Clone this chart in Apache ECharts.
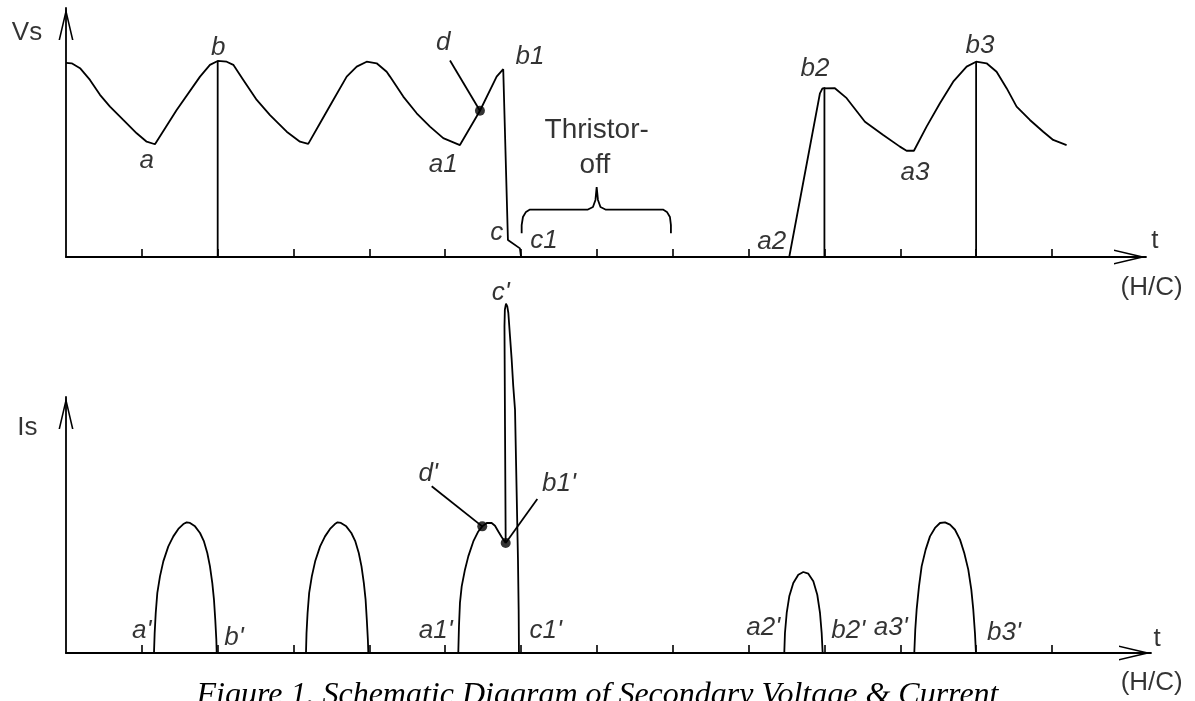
<!DOCTYPE html>
<html><head><meta charset="utf-8">
<script src="https://cdn.jsdelivr.net/npm/echarts@6/dist/echarts.min.js"></script>
<style>html,body{margin:0;padding:0;background:#fff}#c{width:1195px;height:701px}</style>
</head><body><div id="c"></div>
<script>
// ---------- top panel: secondary voltage Vs (x in H/C cycles, y relative) ----------
const xTickValues = [1,2,3,4,5,6,7,8,9,10,11,12,13];
const vsCurve = [
 [0,0.99],[0.075,0.988],[0.185,0.963],[0.316,0.903],[0.448,0.827],[0.580,0.767],[0.755,0.699],[0.932,0.631],[1.064,0.588],[1.173,0.575],
 [1.459,0.750],[1.767,0.920],[1.898,0.980],[2.0,1.0],[2.119,0.996],[2.206,0.980],[2.338,0.903],[2.515,0.801],[2.690,0.724],[2.910,0.639],[3.085,0.588],[3.194,0.577],
 [3.349,0.682],[3.524,0.801],[3.701,0.920],[3.833,0.971],[3.964,0.996],[4.096,0.988],[4.228,0.945],[4.272,0.920],[4.447,0.818],
 [4.624,0.733],[4.799,0.665],[4.974,0.606],[5.194,0.571],
 [5.458,0.746],[5.678,0.920],[5.765,0.958],[5.788,0.959],[5.827,0.087],[5.985,0.044],[6.0,0],[9.536,0],
 [9.941,0.835],[9.974,0.860],[10.0,0.866],[10.138,0.861],[10.293,0.810],[10.534,0.690],[10.775,0.622],[10.995,0.563],[11.083,0.542],[11.180,0.542],
 [11.347,0.665],[11.523,0.784],[11.698,0.894],[11.875,0.971],[12.0,0.996],[12.138,0.988],[12.270,0.945],[12.402,0.861],[12.534,0.767],[12.709,0.699],[12.885,0.639],[13.016,0.597],[13.193,0.571]
];
const vsDrops = [[2.0,1.0],[10.0,0.866],[12.0,0.996]];
const braceOff = [
 [6.008,0.121],[6.008,0.163],[6.025,0.204],[6.065,0.230],[6.117,0.242],[6.882,0.242],[6.948,0.255],[6.981,0.291],[6.997,0.357],
 [7.014,0.291],[7.047,0.255],[7.113,0.242],[7.871,0.242],[7.923,0.230],[7.963,0.204],[7.976,0.163],[7.976,0.121]
];
const dLeader = [[5.063,1.002],[5.458,0.746]];
const vsDots = [[5.458,0.746]];
const vsItalicText = [['a',1.064,0.444],['b',2.008,1.020],['a1',4.974,0.423],['d',4.974,1.047],['b1',6.117,0.974],['c',5.678,0.078],['c1',6.302,0.036],['a2',9.304,0.032],['b2',9.875,0.912],['a3',11.193,0.384],['b3',12.050,1.031]];
const vsPlainText = [['Vs',-0.514,1.098],['t',14.357,0.036],['(H/C)',14.314,-0.204]];
const vsNoteText = [['Thristor-',6.997,0.597],['off',6.974,0.418]];

// ---------- bottom panel: secondary current Is ----------
const isHump1 = [[1.160,0],[1.169,0.154],[1.183,0.308],[1.204,0.462],[1.239,0.589],[1.283,0.705],[1.349,0.820],[1.415,0.897],[1.481,0.954],[1.547,0.992],[1.591,1.005],[1.635,1.000],[1.701,0.974],[1.767,0.923],[1.819,0.858],[1.863,0.769],[1.898,0.666],[1.929,0.538],[1.951,0.410],[1.968,0.256],[1.982,0.102],[1.987,0]];
const isHump2 = [[3.164,0],[3.171,0.154],[3.185,0.308],[3.206,0.462],[3.241,0.589],[3.285,0.705],[3.350,0.820],[3.415,0.897],[3.481,0.954],[3.545,0.992],[3.580,1.005],[3.625,1.000],[3.695,0.974],[3.762,0.923],[3.815,0.858],[3.860,0.769],[3.896,0.666],[3.927,0.538],[3.950,0.410],[3.966,0.256],[3.980,0.102],[3.986,0]];
const isSpike = [[5.172,0],[5.181,0.205],[5.194,0.385],[5.217,0.513],[5.260,0.641],[5.304,0.743],[5.370,0.858],[5.436,0.935],[5.488,0.974],[5.547,1.000],[5.612,1.000],[5.656,0.979],[5.700,0.935],[5.744,0.892],[5.797,0.846],
 [5.788,1.743],[5.781,2.512],[5.786,2.641],[5.801,2.687],[5.818,2.666],[5.832,2.615],[5.854,2.435],[5.876,2.256],[5.897,2.051],[5.920,1.872],[5.933,1.487],[5.946,1.102],[5.959,0.718],[5.968,0.333],[5.972,0]];
const isHump3 = [[9.470,0],[9.479,0.154],[9.502,0.308],[9.536,0.436],[9.589,0.538],[9.655,0.602],[9.721,0.623],[9.787,0.610],[9.853,0.551],[9.905,0.448],[9.941,0.308],[9.963,0.154],[9.976,0]];
const isHump4 = [[11.184,0],[11.197,0.179],[11.215,0.333],[11.246,0.512],[11.281,0.666],[11.334,0.795],[11.391,0.897],[11.457,0.962],[11.523,1.000],[11.589,1.005],[11.655,0.987],[11.721,0.948],[11.787,0.872],[11.843,0.769],[11.896,0.641],[11.936,0.487],[11.962,0.333],[11.984,0.154],[11.997,0]];
const dPrimeLeader = [[4.821,1.282],[5.488,0.974]];
const b1PrimeLeader = [[6.214,1.185],[5.797,0.846]];
const isDots = [[5.488,0.974],[5.797,0.846]];
const isItalicText = [["a'",0.998,0.102],["b'",2.215,0.051],["a1'",4.874,0.102],["c1'",6.324,0.102],["d'",4.777,1.308],["b1'",6.500,1.231],["c'",5.732,2.705],["a2'",9.193,0.128],["b2'",10.314,0.102],["a3'",10.873,0.128],["b3'",12.367,0.089]];
const isPlainText = [['Is',-0.508,1.666],['t',14.384,0.038],['(H/C)',14.314,-0.295]];
const caption = 'Figure 1. Schematic Diagram of Secondary Voltage & Current';

// ---------- styling / building ----------
const ARROW = 'path://M7.5,0L15,32L13.4,32L7.5,6.8L1.6,32L0,32Z';
const FONT = 'Liberation Sans';
function axisLine(){return {show:true,lineStyle:{color:'#000',width:1.8},symbol:['none',ARROW],symbolSize:[15,32],symbolOffset:[0,-16]};}
function xAx(gi,max){return {type:'value',gridIndex:gi,min:0,max:max,interval:1,axisLine:axisLine(),
  axisTick:{show:true,inside:true,length:8,customValues:xTickValues,lineStyle:{color:'#000',width:1.6}},
  axisLabel:{show:false},splitLine:{show:false}};}
function yAx(gi,max){return {type:'value',gridIndex:gi,min:0,max:max,axisLine:axisLine(),axisTick:{show:false},axisLabel:{show:false},splitLine:{show:false}};}
function line(data,gi){return {type:'line',xAxisIndex:gi,yAxisIndex:gi,data:data,symbol:'none',clip:false,silent:true,
  lineStyle:{color:'#000',width:1.8},z:3};}
function dots(data,gi){return {type:'scatter',xAxisIndex:gi,yAxisIndex:gi,data:data,symbolSize:10,clip:false,silent:true,itemStyle:{color:'#000'},z:4};}
function texts(items,gi,fs,italic){return {type:'scatter',xAxisIndex:gi,yAxisIndex:gi,symbolSize:0,clip:false,silent:true,z:5,
  itemStyle:{color:'transparent'},
  data:items.map(d=>({name:d[0],value:[d[1],d[2]]})),
  label:{show:true,position:'inside',formatter:'{b}',color:'#000',fontSize:fs,fontStyle:italic?'italic':'normal',fontFamily:FONT,offset:[0,-0.3465*fs]}};}

const series = [
  line(vsCurve,0),
  ...vsDrops.map(p=>line([[p[0],0],[p[0],p[1]]],0)),
  line(braceOff,0), line(dLeader,0), dots(vsDots,0),
  texts(vsItalicText,0,26,true), texts(vsPlainText,0,26,false), texts(vsNoteText,0,28,false),
  line(isHump1,1), line(isHump2,1), line(isSpike,1), line(isHump3,1), line(isHump4,1),
  line(dPrimeLeader,1), line(b1PrimeLeader,1), dots(isDots,1),
  texts(isItalicText,1,26,true), texts(isPlainText,1,26,false)
];

const chart = echarts.init(document.getElementById('c'),null,{renderer:'canvas'});
chart.setOption({
  animation:false,
  backgroundColor:'#fff',
  grid:[{left:66,top:8,width:1080,height:249},{left:66,top:397,width:1085,height:256}],
  xAxis:[xAx(0,14.24),xAx(1,14.305)],
  yAxis:[yAx(0,1.27),yAx(1,1.969)],
  series:series,
  graphic:[{type:'text',left:'center',top:680,silent:true,
    style:{text:caption,fill:'#000',font:'italic 32px "Liberation Serif"'}}]
});
</script></body></html>
